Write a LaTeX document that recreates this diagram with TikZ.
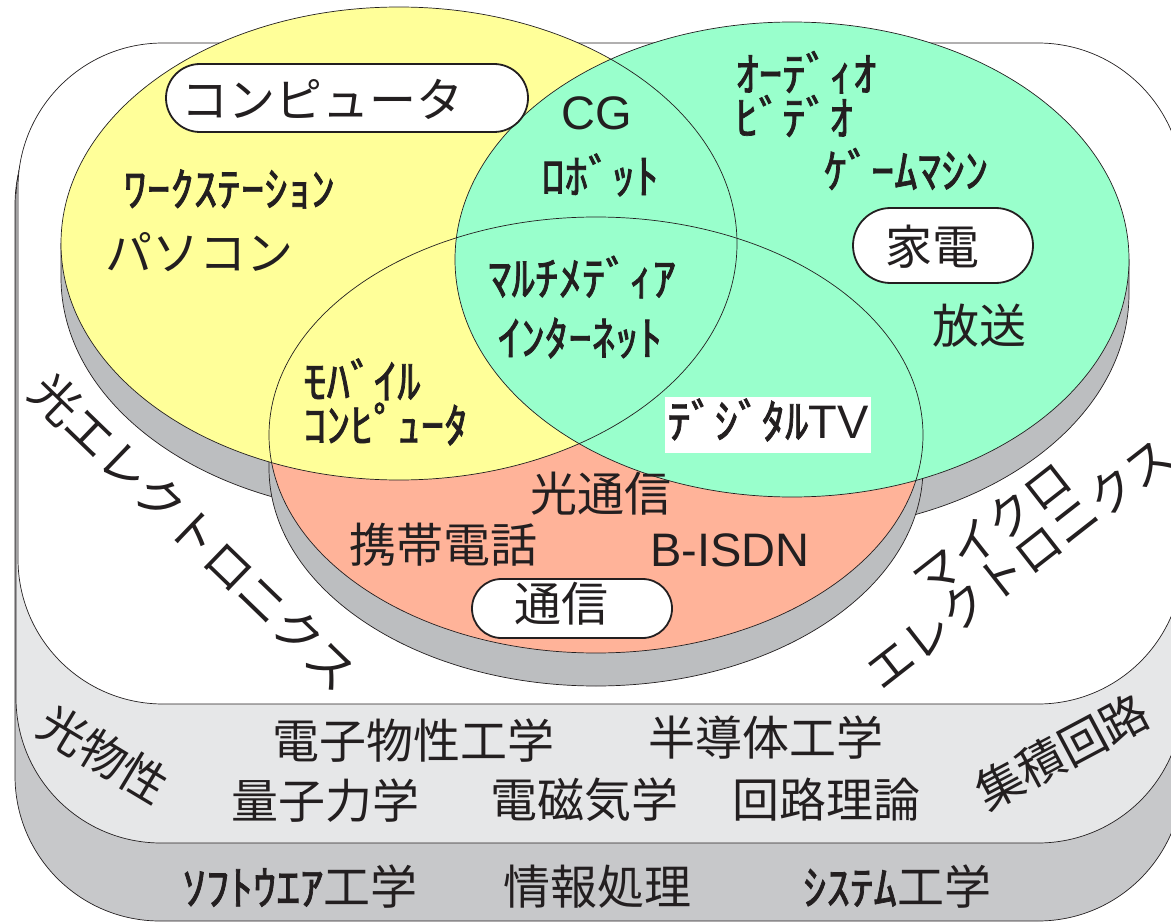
\documentclass[tikz,border=0pt]{standalone}
\usepackage{fontspec}
\usetikzlibrary{shapes.misc}
\newfontfamily\jp{Noto Sans CJK JP}
\newfontfamily\jpm{Noto Sans CJK JP}[FakeBold=1.5]
\newfontfamily\lat{Liberation Sans}
\definecolor{ink}{HTML}{231F20}
\definecolor{yel}{HTML}{FFFF99}
\definecolor{grn}{HTML}{99FFCC}
\definecolor{sal}{HTML}{FFB399}
\definecolor{shd}{HTML}{BCBEC0}
\definecolor{lgray}{HTML}{E6E7E8}
\definecolor{dgray}{HTML}{C7C8CA}
\begin{document}
\begin{tikzpicture}[x=1pt,y=-1pt,
  lbl/.style={inner sep=0pt, text=ink, font=\jp\fontsize{47}{47}\selectfont},
  hw/.style={inner sep=0pt, text=ink, font=\jpm\fontsize{47}{44}\selectfont, align=left},
  latn/.style={inner sep=0pt, text=ink, font=\lat\fontsize{47}{47}\selectfont},
  pill/.style={draw=ink, line width=1.8pt, fill=white, rounded rectangle, inner sep=0pt},
  slab/.style={draw=ink, line width=0.7pt, rounded corners=145pt},
  disc/.style={draw=ink, line width=0.7pt},
  ]
\useasboundingbox (0,0) rectangle (1171,923);
\clip (0,0) rectangle (1171,923);
% base layers
\filldraw[slab, fill=dgray] (15,60) rectangle (1183,921);
\filldraw[slab, fill=lgray] (16,55) rectangle (1183,843);
\filldraw[slab, fill=white] (18,43) rectangle (1183,704);
% disc sides
\filldraw[disc, fill=shd] (61,243.5) -- (61,277.5) arc[start angle=180,end angle=0,x radius=338,y radius=236.5] -- (737,243.5) -- cycle;
\filldraw[disc, fill=shd] (455,259.5) -- (455,293.5) arc[start angle=180,end angle=0,x radius=337,y radius=237.5] -- (1129,259.5) -- cycle;
\filldraw[disc, fill=shd] (269,435) -- (269,468) arc[start angle=180,end angle=0,x radius=327,y radius=218] -- (923,435) -- cycle;
% disc tops
\fill[sal] (596,435) ellipse [x radius=327, y radius=218];
\fill[yel] (399,243.5) ellipse [x radius=338, y radius=236.5];
\fill[grn] (792,259.5) ellipse [x radius=337, y radius=237.5];
\draw[disc] (596,435) ellipse [x radius=327, y radius=218];
\draw[disc] (399,243.5) ellipse [x radius=338, y radius=236.5];
\draw[disc] (792,259.5) ellipse [x radius=337, y radius=237.5];
% computer disc
\node[pill, minimum width=362pt, minimum height=68pt] (compbox) at (347,98) {};
\node[lbl] (comp) at (322,99) {コンピュータ};
\node[hw] (ws) at (229,189) {ﾜｰｸｽﾃｰｼｮﾝ};
\node[lbl] (pc) at (199,252) {パソコン};
\node[latn] (cg) at (597,113) {CG};
\node[hw] (robot) at (600,175) {ﾛﾎﾞｯﾄ};
\node[hw] (mm) at (582,277) {ﾏﾙﾁﾒﾃﾞｨｱ};
\node[hw] (inet) at (580,338) {ｲﾝﾀｰﾈｯﾄ};
\node[hw, anchor=west] (mobile) at (303,402) {ﾓﾊﾞｲﾙ\\ｺﾝﾋﾟｭｰﾀ};
% home electronics disc
\node[hw, anchor=west] (av) at (735,94) {ｵｰﾃﾞｨｵ\\ﾋﾞﾃﾞｵ};
\node[hw] (game) at (906,169) {ｹﾞｰﾑﾏｼﾝ};
\node[pill, minimum width=180pt, minimum height=75pt] (kdbox) at (943,245.5) {};
\node[lbl] (kaden) at (932.5,246.5) {家電};
\node[lbl] (hoso) at (979,326) {放送};
\node[fill=white, minimum width=206pt, minimum height=56pt, inner sep=0pt] (tvbg) at (768,425) {};
\node[hw] (dtv) at (768,420) {ﾃﾞｼﾞﾀﾙ{\lat TV}};
% communication disc
\node[lbl] (hikari) at (601,494) {光通信};
\node[lbl] (keitai) at (443,545) {携帯電話};
\node[latn] (bisdn) at (730,550) {B-ISDN};
\node[pill, minimum width=200pt, minimum height=59pt] (tsbox) at (572,608.5) {};
\node[lbl] (tsushin) at (561,603.5) {通信};
% white layer labels
\node[lbl, font=\jp\fontsize{48}{48}\selectfont, rotate=-44] (optel) at (194,532) {光エレクトロニクス};
\node[lbl, font=\jp\fontsize{47}{44}\selectfont, rotate=38, align=center] (micro) at (1005.5,546) {マイクロ\\エレクトロニクス};
% light gray layer
\node[lbl, rotate=-31] (kobussei) at (104,754) {光物性};
\node[lbl] (denshi) at (413,741) {電子物性工学};
\node[lbl] (handotai) at (766,738) {半導体工学};
\node[lbl] (ryoshi) at (325,801) {量子力学};
\node[lbl] (denji) at (584,800) {電磁気学};
\node[lbl] (kairo) at (826,800) {回路理論};
\node[lbl, rotate=28] (shuseki) at (1062,752) {集積回路};
% dark gray layer
\node[lbl] (soft) at (300,887) {{\jpm ｿﾌﾄｳｴｱ}工学};
\node[lbl] (joho) at (597,887) {情報処理};
\node[lbl] (sys) at (897,887) {{\jpm ｼｽﾃﾑ}工学};
\end{tikzpicture}
\end{document}
